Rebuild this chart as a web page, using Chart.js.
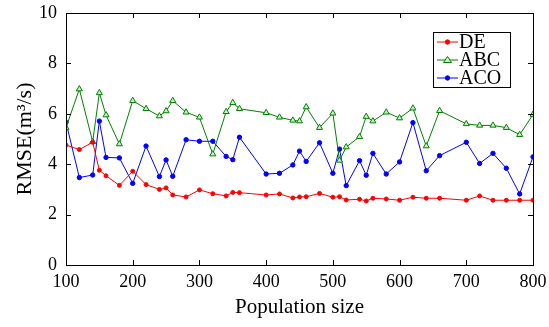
<!DOCTYPE html>
<html>
<head>
<meta charset="utf-8">
<script src="https://cdn.jsdelivr.net/npm/chart.js"></script>
<style>
  html, body { margin: 0; padding: 0; background: #fff; }
  #wrap { width: 549px; height: 327px; position: relative; }
</style>
</head>
<body>
<div id="wrap"><canvas id="rmseChart"></canvas></div>
<script>
// population sizes (shared by all three series)
const popSizes = [100, 120, 140, 150, 160, 180, 200, 220, 240, 250, 260, 280, 300, 320, 340, 350, 360,
  400, 420, 440, 450, 460, 480, 500, 510, 520, 540, 550, 560, 580, 600, 620, 640, 660, 700, 720, 740, 760, 780, 800];

const deValues = [4.76, 4.58, 4.87, 3.76, 3.54, 3.16, 3.72, 3.19, 3.00, 3.06, 2.78, 2.70, 2.98, 2.83, 2.74, 2.88, 2.87,
  2.78, 2.82, 2.66, 2.70, 2.71, 2.84, 2.69, 2.71, 2.58, 2.61, 2.54, 2.65, 2.62, 2.57, 2.69, 2.65, 2.65, 2.57, 2.74, 2.57, 2.57, 2.57, 2.57];

const abcValues = [5.45, 6.98, 4.89, 6.83, 5.95, 4.80, 6.52, 6.20, 5.91, 6.11, 6.52, 6.06, 5.86, 4.40, 6.08, 6.44, 6.20,
  6.04, 5.86, 5.74, 5.71, 6.27, 5.45, 6.02, 4.15, 4.68, 5.09, 5.89, 5.71, 6.06, 5.83, 6.22, 4.72, 6.12, 5.60, 5.54, 5.54, 5.45, 5.17, 5.97];

const acoValues = [5.66, 3.47, 3.57, 5.71, 4.27, 4.25, 3.24, 4.72, 3.51, 4.17, 3.52, 4.97, 4.91, 4.91, 4.31, 4.18, 5.07,
  3.61, 3.64, 3.97, 4.52, 4.11, 4.85, 3.64, 4.60, 3.15, 4.14, 3.56, 4.43, 3.61, 4.09, 5.65, 3.74, 4.34, 4.87, 4.03, 4.43, 3.84, 2.82, 4.29];

const xTicks = [100, 200, 300, 400, 500, 600, 700, 800];
const yTicks = [0, 2, 4, 6, 8, 10];

const serifFont = '"Liberation Serif", "Times New Roman", serif';
Chart.defaults.font.family = serifFont;
Chart.defaults.color = '#000';

function toPoints(vals) {
    return popSizes.map((x, i) => ({ x: x, y: vals[i] }));
}

// MATLAB-like box with inward ticks, plus the legend inside the axes
const boxPlugin = {
    id: 'boxTicks',
    afterDraw(chart) {
        const { ctx, chartArea: a, scales } = chart;
        const tl = 5;
        ctx.save();
        ctx.strokeStyle = '#000';
        ctx.lineWidth = 1;
        ctx.beginPath();
        xTicks.forEach(v => {
            const px = Math.round(scales.x.getPixelForValue(v)) + 0.5;
            ctx.moveTo(px, a.bottom); ctx.lineTo(px, a.bottom - tl);
            ctx.moveTo(px, a.top); ctx.lineTo(px, a.top + tl);
        });
        yTicks.forEach(v => {
            const py = Math.round(scales.y.getPixelForValue(v)) + 0.5;
            ctx.moveTo(a.left, py); ctx.lineTo(a.left + tl, py);
            ctx.moveTo(a.right, py); ctx.lineTo(a.right - tl, py);
        });
        ctx.stroke();
        ctx.strokeRect(Math.round(a.left) + 0.5, Math.round(a.top) + 0.5,
            Math.round(a.right - a.left), Math.round(a.bottom - a.top));

        const lx = 433, ly = 32, lw = 77, lh = 55;
        ctx.fillStyle = '#fff';
        ctx.fillRect(lx, ly, lw, lh);
        ctx.strokeRect(lx + 0.5, ly + 0.5, lw, lh);
        const rows = [42, 60, 78];
        chart.data.datasets.forEach((ds, i) => {
            const y = rows[i];
            ctx.strokeStyle = ds.borderColor;
            ctx.lineWidth = 1;
            ctx.beginPath();
            ctx.moveTo(437, y); ctx.lineTo(458, y);
            ctx.stroke();
            ctx.fillStyle = ds.pointBackgroundColor;
            ctx.strokeStyle = ds.pointBorderColor;
            ctx.beginPath();
            if (ds.pointStyle === 'triangle') {
                ctx.moveTo(447.5, y - 3.5); ctx.lineTo(451.5, y + 2.5); ctx.lineTo(443.5, y + 2.5); ctx.closePath();
            } else {
                ctx.arc(447.5, y, 2.2, 0, Math.PI * 2);
            }
            ctx.fill();
            ctx.stroke();
            ctx.fillStyle = '#000';
            ctx.font = '20px ' + serifFont;
            ctx.textBaseline = 'middle';
            ctx.textAlign = 'left';
            ctx.fillText(ds.label, 459, y + 1);
        });
        ctx.restore();
    }
};

new Chart(document.getElementById('rmseChart'), {
    type: 'line',
    data: {
        datasets: [
            {
                label: 'DE',
                data: toPoints(deValues),
                borderColor: '#ff0000',
                borderWidth: 1,
                pointStyle: 'circle',
                pointRadius: 2,
                pointBackgroundColor: '#ff0000',
                pointBorderColor: '#ff0000',
                pointBorderWidth: 1
            },
            {
                label: 'ABC',
                data: toPoints(abcValues),
                borderColor: '#008000',
                borderWidth: 1,
                pointStyle: 'triangle',
                pointRadius: 3.5,
                pointBackgroundColor: '#c8f0c8',
                pointBorderColor: '#008000',
                pointBorderWidth: 1
            },
            {
                label: 'ACO',
                data: toPoints(acoValues),
                borderColor: '#0000ff',
                borderWidth: 1,
                pointStyle: 'circle',
                pointRadius: 2.2,
                pointBackgroundColor: '#0000ff',
                pointBorderColor: '#0000ff',
                pointBorderWidth: 1
            }
        ]
    },
    options: {
        responsive: true,
        maintainAspectRatio: false,
        animation: false,
        layout: { padding: { top: 13, right: 16, left: 0, bottom: 0 } },
        plugins: {
            legend: { display: false },
            tooltip: { enabled: false }
        },
        scales: {
            x: {
                type: 'linear',
                min: 100,
                max: 800,
                afterFit: (s) => { s.height = 62; s.paddingLeft = 0; s.paddingRight = 0; },
                afterBuildTicks: (s) => { s.ticks = xTicks.map(v => ({ value: v })); },
                grid: { display: false, drawTicks: false },
                border: { display: false },
                ticks: { color: '#000', font: { family: serifFont, size: 18 }, padding: 6, maxRotation: 0 },
                title: { display: true, text: 'Population size', color: '#000', font: { family: serifFont, size: 21 }, padding: { top: 0, bottom: 7 } }
            },
            y: {
                min: 0,
                max: 10,
                afterFit: (s) => { s.width = 66; s.paddingTop = 0; s.paddingBottom = 0; },
                afterBuildTicks: (s) => { s.ticks = yTicks.map(v => ({ value: v })); },
                grid: { display: false, drawTicks: false },
                border: { display: false },
                ticks: { color: '#000', font: { family: serifFont, size: 18 }, padding: 9 },
                title: { display: true, text: 'RMSE(m\u00b3/s)', color: '#000', font: { family: serifFont, size: 22 }, padding: { top: 12, bottom: 0 } }
            }
        }
    },
    plugins: [boxPlugin]
});
</script>
</body>
</html>
